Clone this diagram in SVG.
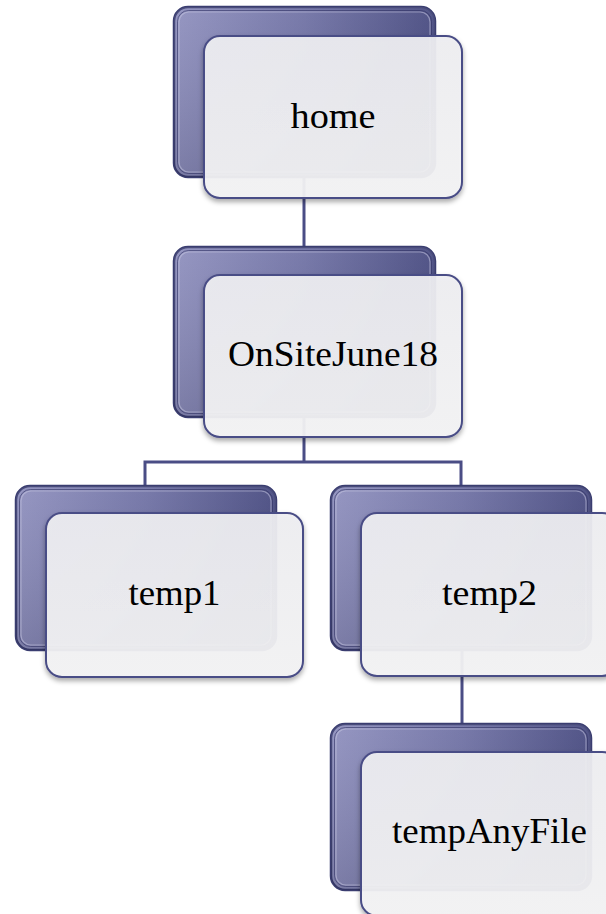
<svg xmlns="http://www.w3.org/2000/svg" width="606" height="914" viewBox="0 0 606 914">
<defs>
<linearGradient id="backGrad" x1="0" y1="0" x2="1" y2="0">
<stop offset="0" stop-color="#8d8ebd"/>
<stop offset="0.5" stop-color="#6d6fa3"/>
<stop offset="1" stop-color="#44477e"/>
</linearGradient>
<linearGradient id="backShade" x1="0" y1="0" x2="0" y2="1">
<stop offset="0" stop-color="#ffffff" stop-opacity="0.08"/>
<stop offset="1" stop-color="#000000" stop-opacity="0.12"/>
</linearGradient>
<linearGradient id="frontGrad" x1="0" y1="0" x2="0" y2="1">
<stop offset="0" stop-color="#efeff2"/>
<stop offset="1" stop-color="#f4f4f5"/>
</linearGradient>
<filter id="shadow" x="-10%" y="-10%" width="120%" height="125%">
<feDropShadow dx="0" dy="3" stdDeviation="2.5" flood-color="#000" flood-opacity="0.35"/>
</filter>
</defs>
<style>
.back{fill:url(#backGrad);stroke:#3a3d70;stroke-width:2.5}
.backShade{fill:url(#backShade);stroke:none}
.backInner{fill:none;stroke:#c4c5e0;stroke-opacity:0.55;stroke-width:1.2}
.backInner2{fill:none;stroke:#2e3162;stroke-opacity:0.6;stroke-width:1}
.front{fill:url(#frontGrad);fill-opacity:0.93;stroke:#4a4d86;stroke-width:2;filter:url(#shadow)}
.label{font-family:"Liberation Serif","Times New Roman",serif;font-size:35px;fill:#000;text-anchor:middle}
.conn{fill:none;stroke:#4a4d85;stroke-width:3}
</style>
<rect width="606" height="914" fill="#ffffff"/>
<g id="connectors">
<path class="conn" d="M304 170 V248"/>
<path class="conn" d="M304 410 V462 M145 462 H461 M145 460.5 V488 M461 460.5 V488"/>
<path class="conn" d="M462 650 V725"/>
</g>
<g id="node-home">
<rect class="back" x="174" y="7" width="261" height="170" rx="14"/>
<rect class="backShade" x="174" y="7" width="261" height="170" rx="14"/>
<rect class="backInner2" x="177.5" y="10.5" width="254" height="163" rx="11"/>
<rect class="backInner" x="179" y="12" width="251" height="160" rx="10"/>
<rect class="front" x="204" y="36" width="258" height="162" rx="16"/>
<text class="label" x="333" y="128" textLength="85" lengthAdjust="spacingAndGlyphs">home</text>
</g>
<g id="node-onsite">
<rect class="back" x="174" y="247" width="261" height="170" rx="14"/>
<rect class="backShade" x="174" y="247" width="261" height="170" rx="14"/>
<rect class="backInner2" x="177.5" y="250.5" width="254" height="163" rx="11"/>
<rect class="backInner" x="179" y="252" width="251" height="160" rx="10"/>
<rect class="front" x="204" y="275" width="258" height="162" rx="16"/>
<text class="label" x="333" y="366" textLength="210" lengthAdjust="spacingAndGlyphs">OnSiteJune18</text>
</g>
<g id="node-temp1">
<rect class="back" x="16" y="486" width="260" height="164" rx="14"/>
<rect class="backShade" x="16" y="486" width="260" height="164" rx="14"/>
<rect class="backInner2" x="19.5" y="489.5" width="253" height="157" rx="11"/>
<rect class="backInner" x="21" y="491" width="250" height="154" rx="10"/>
<rect class="front" x="46" y="513" width="257" height="164" rx="16"/>
<text class="label" x="174.5" y="605" textLength="92" lengthAdjust="spacingAndGlyphs">temp1</text>
</g>
<g id="node-temp2">
<rect class="back" x="331" y="486" width="260" height="164" rx="14"/>
<rect class="backShade" x="331" y="486" width="260" height="164" rx="14"/>
<rect class="backInner2" x="334.5" y="489.5" width="253" height="157" rx="11"/>
<rect class="backInner" x="336" y="491" width="250" height="154" rx="10"/>
<rect class="front" x="361" y="513" width="257" height="163" rx="16"/>
<text class="label" x="489.5" y="605" textLength="95" lengthAdjust="spacingAndGlyphs">temp2</text>
</g>
<g id="node-tempAnyFile">
<rect class="back" x="331" y="724" width="260" height="166" rx="14"/>
<rect class="backShade" x="331" y="724" width="260" height="166" rx="14"/>
<rect class="backInner2" x="334.5" y="727.5" width="253" height="159" rx="11"/>
<rect class="backInner" x="336" y="729" width="250" height="156" rx="10"/>
<rect class="front" x="361" y="752" width="257" height="164" rx="16"/>
<text class="label" x="489.5" y="843" textLength="195" lengthAdjust="spacingAndGlyphs">tempAnyFile</text>
</g>
</svg>
